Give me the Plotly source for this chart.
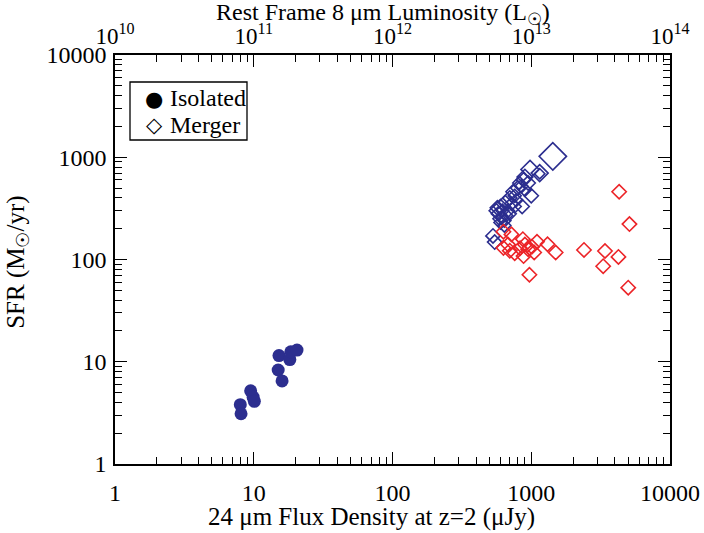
import plotly.graph_objects as go

# Isolated galaxies (filled circles)
iso_flux = [8.0, 8.1, 9.5, 9.9, 10.1, 15.2, 15.0, 16.0, 18.2, 18.5, 20.5]
iso_sfr = [3.8, 3.1, 5.2, 4.5, 4.1, 11.5, 8.3, 6.5, 10.5, 12.5, 13.0]

# Mergers, early phase (blue open diamonds)
mb_flux = [1430, 1150, 1150, 980, 900, 1000, 860, 530, 545, 560, 570, 580, 600,
           620, 640, 650, 680, 700, 720, 740, 760, 800, 820, 850, 880, 600, 700,
           760, 620, 660, 900, 780, 950, 590, 640]
mb_sfr = [1020, 700, 690, 760, 640, 420, 330, 170, 148, 300, 320, 280, 330,
          260, 240, 360, 300, 400, 350, 460, 420, 500, 560, 520, 600, 230, 280,
          330, 300, 270, 480, 380, 560, 250, 215]
mb_size = [21, 13, 8, 14, 12, 11, 11, 11, 11, 11, 11, 11, 11,
           10, 10, 11, 10, 11, 10, 11, 10, 11, 10, 10, 11, 10, 10,
           10, 10, 10, 10, 10, 11, 10, 10]

# Mergers, late phase (red open diamonds)
mr_flux = [630, 720, 870, 1100, 1310, 1500, 2400, 3400, 4300, 5100, 4250, 3300,
           5000, 970, 630, 700, 760, 880, 950, 1010, 1050, 830, 680, 900]
mr_sfr = [187, 176, 158, 149, 141, 117, 124, 121, 460, 222, 106, 86,
          53, 71, 130, 122, 115, 108, 126, 133, 117, 129, 140, 140]

x_ticks = [1, 10, 100, 1000, 10000]
y_ticks = [1, 10, 100, 1000, 10000]
top_ticks = [1e10, 1e11, 1e12, 1e13, 1e14]
top_labels = ["10<sup>10</sup>", "10<sup>11</sup>", "10<sup>12</sup>",
              "10<sup>13</sup>", "10<sup>14</sup>"]
legend_labels = ["Isolated", "Merger"]

BLUE = "#2C2E8F"
RED = "#EC2428"
FONT = "Liberation Serif"


def minor_vals(e0, e1):
    return [m * 10 ** e for e in range(e0, e1) for m in range(2, 10)]


fig = go.Figure()
fig.add_trace(go.Scatter(x=iso_flux, y=iso_sfr, mode="markers", showlegend=False,
                         marker=dict(symbol="circle", size=13, color=BLUE, opacity=1,
                                     line=dict(width=0))))
fig.add_trace(go.Scatter(x=mb_flux, y=mb_sfr, mode="markers", showlegend=False,
                         marker=dict(symbol="diamond-open", size=mb_size, color=BLUE,
                                     opacity=1, line=dict(width=1.6, color=BLUE))))
fig.add_trace(go.Scatter(x=mr_flux, y=mr_sfr, mode="markers", showlegend=False,
                         marker=dict(symbol="diamond-open", size=11, color=RED,
                                     opacity=1, line=dict(width=1.6, color=RED))))
# dummy for top axis
fig.add_trace(go.Scatter(x=[1e12], y=[1], xaxis="x2", mode="markers",
                         marker=dict(opacity=0), showlegend=False, hoverinfo="skip"))


def axis_common(minor, fsize=24):
    return dict(type="log", showgrid=False, zeroline=False, showline=True,
                automargin=False,
                linecolor="black", linewidth=1.6, ticks="inside", ticklen=12,
                tickwidth=1.3, tickcolor="black",
                tickfont=dict(family=FONT, size=fsize, color="black"),
                minor=dict(tickvals=minor, ticks="inside", ticklen=7, tickwidth=1.1,
                           tickcolor="black", showgrid=False))


fig.update_layout(
    width=704, height=533,
    margin=dict(l=115, r=34, t=55, b=69, autoexpand=False),
    paper_bgcolor="white", plot_bgcolor="white",
    font=dict(family=FONT, size=24, color="black"),
    showlegend=False,
    xaxis=dict(range=[0, 4], tickvals=x_ticks, ticktext=[str(v) for v in x_ticks],
               mirror=True, ticklabelstandoff=6, **axis_common(minor_vals(0, 4))),
    xaxis2=dict(range=[10, 14], overlaying="x", side="top", anchor="y",
                tickvals=top_ticks, ticktext=top_labels, ticklabelstandoff=0,
                **axis_common(minor_vals(10, 14), 23)),
    yaxis=dict(range=[0, 4], tickvals=y_ticks, ticktext=[str(v) for v in y_ticks],
               mirror="ticks", ticklabelstandoff=2, **axis_common(minor_vals(0, 4))),
)

# axis titles
fig.add_annotation(text="24 μm Flux Density at z=2 (μJy)", xref="paper", yref="paper",
                   x=0.463, y=-0.13, xanchor="center", yanchor="middle", showarrow=False,
                   font=dict(family=FONT, size=25, color="black"))
fig.add_annotation(text="Rest Frame 8 μm Luminosity (L<sub>☉</sub>)", xref="paper",
                   yref="paper", x=0.483, y=1.1, xanchor="center", yanchor="middle",
                   showarrow=False, font=dict(family=FONT, size=24, color="black"))
fig.add_annotation(text="SFR (M<sub>☉</sub>/yr)", xref="paper", yref="paper",
                   x=-0.175, y=0.494, xanchor="center", yanchor="middle", textangle=-90,
                   showarrow=False, font=dict(family=FONT, size=25, color="black"))

# legend box
fig.add_shape(type="rect", xref="paper", yref="paper",
              x0=(130 - 115) / 555, x1=(247 - 115) / 555,
              y0=(464 - 140) / 409, y1=(464 - 82) / 409,
              line=dict(color="black", width=1.3), fillcolor="white")
fig.add_annotation(text="●", xref="paper", yref="paper", x=(154 - 115) / 555,
                   y=(464 - 99) / 409, xanchor="center", yanchor="middle",
                   showarrow=False, font=dict(family="DejaVu Sans", size=21, color="black"))
fig.add_annotation(text="◇", xref="paper", yref="paper", x=(154 - 115) / 555,
                   y=(464 - 125) / 409, xanchor="center", yanchor="middle",
                   showarrow=False, font=dict(family="DejaVu Sans", size=21, color="black"))
for lbl, py in zip(legend_labels, [98, 125]):
    fig.add_annotation(text=lbl, xref="paper", yref="paper", x=(168 - 115) / 555,
                       y=(464 - py) / 409, xanchor="left", yanchor="middle",
                       showarrow=False, font=dict(family=FONT, size=24, color="black"))

fig.write_html("out.html")
